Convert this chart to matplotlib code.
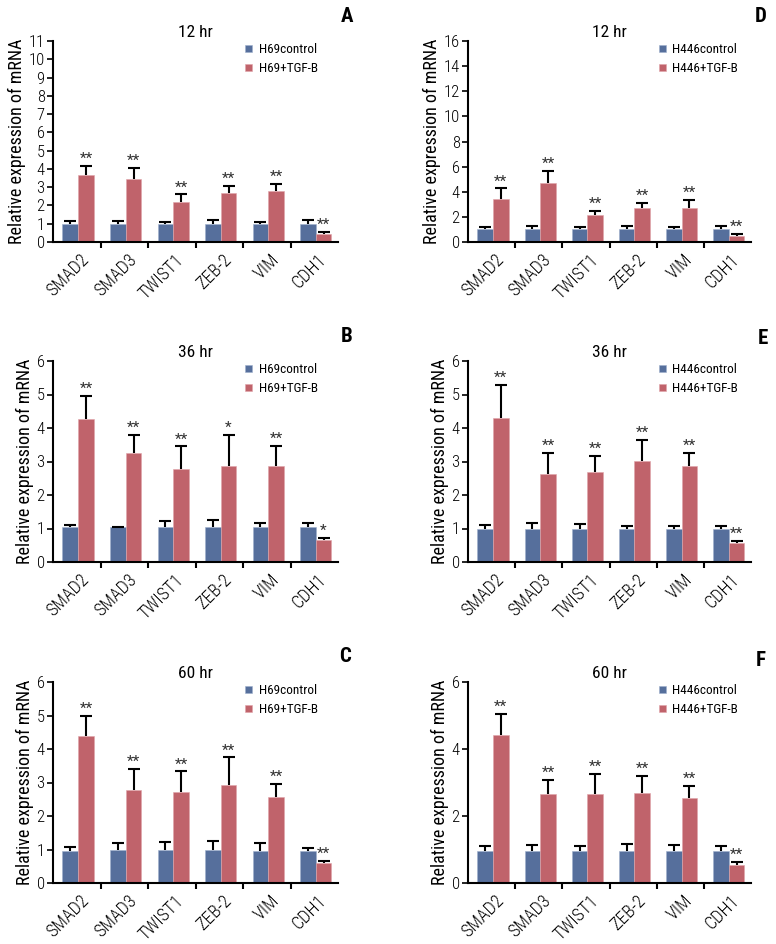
import matplotlib
matplotlib.use("Agg")
import matplotlib.pyplot as plt
import matplotlib.transforms as mtransforms
import numpy as np

plt.rcParams['font.family'] = ['Roboto Condensed', 'DejaVu Sans']
plt.rcParams['font.stretch'] = 'condensed'
plt.rcParams['font.weight'] = 'light'

genes = ['SMAD2', 'SMAD3', 'TWIST1', 'ZEB-2', 'VIM', 'CDH1']

# panel A - H69, 12 hr
a_ctrl = [0.96, 0.96, 0.96, 0.96, 0.96, 0.96]
a_ctrl_err = [0.17, 0.20, 0.11, 0.22, 0.13, 0.22]
a_tgf = [3.67, 3.45, 2.18, 2.67, 2.80, 0.45]
a_tgf_err = [0.48, 0.59, 0.42, 0.38, 0.38, 0.10]
a_sig = ['**', '**', '**', '**', '**', '**']

# panel B - H69, 36 hr
b_ctrl = [1.03, 1.03, 1.03, 1.03, 1.03, 1.03]
b_ctrl_err = [0.06, 0.02, 0.18, 0.23, 0.13, 0.13]
b_tgf = [4.26, 3.24, 2.77, 2.88, 2.88, 0.66]
b_tgf_err = [0.71, 0.55, 0.68, 0.91, 0.59, 0.06]
b_sig = ['**', '**', '**', '*', '**', '*']

# panel C - H69, 60 hr
c_ctrl = [0.97, 0.99, 0.99, 0.99, 0.97, 0.97]
c_ctrl_err = [0.11, 0.19, 0.23, 0.25, 0.22, 0.07]
c_tgf = [4.38, 2.79, 2.71, 2.92, 2.58, 0.60]
c_tgf_err = [0.60, 0.62, 0.62, 0.83, 0.37, 0.05]
c_sig = ['**', '**', '**', '**', '**', '**']

# panel D - H446, 12 hr
d_ctrl = [1.03, 1.03, 1.03, 1.03, 1.03, 1.03]
d_ctrl_err = [0.13, 0.21, 0.13, 0.21, 0.13, 0.21]
d_tgf = [3.41, 4.71, 2.17, 2.70, 2.70, 0.50]
d_tgf_err = [0.85, 0.92, 0.29, 0.42, 0.66, 0.13]
d_sig = ['**', '**', '**', '**', '**', '**']

# panel E - H446, 36 hr
e_ctrl = [0.98, 0.98, 0.98, 0.98, 0.98, 0.98]
e_ctrl_err = [0.11, 0.18, 0.14, 0.09, 0.09, 0.09]
e_tgf = [4.31, 2.62, 2.68, 3.01, 2.87, 0.58]
e_tgf_err = [0.98, 0.63, 0.49, 0.63, 0.38, 0.06]
e_sig = ['**', '**', '**', '**', '**', '**']

# panel F - H446, 60 hr
f_ctrl = [0.96, 0.96, 0.96, 0.96, 0.96, 0.96]
f_ctrl_err = [0.13, 0.18, 0.13, 0.19, 0.17, 0.15]
f_tgf = [4.41, 2.65, 2.67, 2.70, 2.53, 0.55]
f_tgf_err = [0.63, 0.42, 0.59, 0.50, 0.37, 0.07]
f_sig = ['**', '**', '**', '**', '**', '**']

BLUE = '#566f9c'
RED = '#c0636b'

W, H = 776, 944
fig = plt.figure(figsize=(W / 100, H / 100), dpi=100)


def px_axes(x0, x1, ytop, ybot):
    return fig.add_axes([x0 / W, 1 - ybot / H, (x1 - x0) / W, (ybot - ytop) / H])


def panel(ax, ctrl, ctrl_err, tgf, tgf_err, sig, title, cell, ymax, yticks):
    n = len(genes)
    pos = np.arange(n)
    bw = 0.33
    xb = pos + 0.2 + bw / 2
    xr = pos + 0.2 + bw * 1.5
    ax.bar(xb, ctrl, bw, color=BLUE, edgecolor='#9fb0cc', linewidth=0.4, zorder=2,
           label=f'{cell}control')
    ax.bar(xr, tgf, bw, color=RED, edgecolor='#e0a5aa', linewidth=0.4, zorder=2,
           label=f'{cell}+TGF-B')

    # upper error bars only
    for x, m, e in [(xb, ctrl, ctrl_err), (xr, tgf, tgf_err)]:
        m = np.asarray(m)
        e = np.asarray(e)
        _, caps, _ = ax.errorbar(x, m, yerr=[np.zeros_like(e), e], fmt='none',
                                 ecolor='black', elinewidth=1.5, capsize=4.5,
                                 capthick=1.5, zorder=3)
        for c in caps:
            if np.allclose(c.get_ydata(), m):
                c.set_visible(False)

    for x, m, e, s in zip(xr, tgf, tgf_err, sig):
        ax.annotate(s, (x, m + e), xytext=(0, 0), textcoords='offset points',
                    ha='center', va='bottom', fontsize=11, color='#333333',
                    fontweight='normal')

    ax.set_xlim(0, n)
    ax.set_ylim(0, ymax)
    ax.set_yticks(yticks)
    ax.set_xticks(np.arange(1, n))
    ax.set_xticklabels([])
    ax.tick_params(axis='x', direction='out', length=4, width=1.5)
    ax.tick_params(axis='y', direction='out', length=4, width=1.2, labelsize=12, pad=2)
    for s in ['top', 'right']:
        ax.spines[s].set_visible(False)
    for s in ['left', 'bottom']:
        ax.spines[s].set_linewidth(1.5)

    trans = mtransforms.blended_transform_factory(ax.transData, ax.transAxes)
    for p, g in zip(pos, genes):
        ax.text(p + 0.70, -0.075, g, transform=trans, rotation=45, ha='right',
                va='center', rotation_mode='anchor', fontsize=13)

    ax.set_title(title, fontsize=12.5, pad=3)
    ax.set_ylabel('Relative expression of mRNA', fontsize=13, labelpad=2)
    ax.legend(loc='upper left', bbox_to_anchor=(0.675, 0.99), frameon=False,
              prop={'size': 9.5, 'weight': 'normal'}, handlelength=0.5,
              handleheight=0.5, handletextpad=0.5, labelspacing=0.45,
              borderpad=0, borderaxespad=0)


cols = [(53, 338), (468, 751)]
rows = [(41, 242), (361, 562), (682, 883)]

specs = [
    (0, 0, a_ctrl, a_ctrl_err, a_tgf, a_tgf_err, a_sig, '12 hr', 'H69', 11, range(0, 12), 'A', (347, 17)),
    (0, 1, b_ctrl, b_ctrl_err, b_tgf, b_tgf_err, b_sig, '36 hr', 'H69', 6, range(0, 7), 'B', (347, 336)),
    (0, 2, c_ctrl, c_ctrl_err, c_tgf, c_tgf_err, c_sig, '60 hr', 'H69', 6, range(0, 7), 'C', (345, 657)),
    (1, 0, d_ctrl, d_ctrl_err, d_tgf, d_tgf_err, d_sig, '12 hr', 'H446', 16, range(0, 17, 2), 'D', (761, 17)),
    (1, 1, e_ctrl, e_ctrl_err, e_tgf, e_tgf_err, e_sig, '36 hr', 'H446', 6, range(0, 7), 'E', (763, 338)),
    (1, 2, f_ctrl, f_ctrl_err, f_tgf, f_tgf_err, f_sig, '60 hr', 'H446', 6, range(0, 7, 2), 'F', (761, 660)),
]

for ci, ri, ctrl, ce, tgf, te, sig, title, cell, ymax, yt, letter, (lx, ly) in specs:
    x0, x1 = cols[ci]
    yt0, yb0 = rows[ri]
    ax = px_axes(x0, x1, yt0, yb0)
    panel(ax, ctrl, ce, tgf, te, sig, title, cell, ymax, list(yt))
    fig.text(lx / W, 1 - ly / H, letter, fontsize=15, fontweight='bold',
             ha='center', va='center')

fig.savefig('out.png', dpi=100)
